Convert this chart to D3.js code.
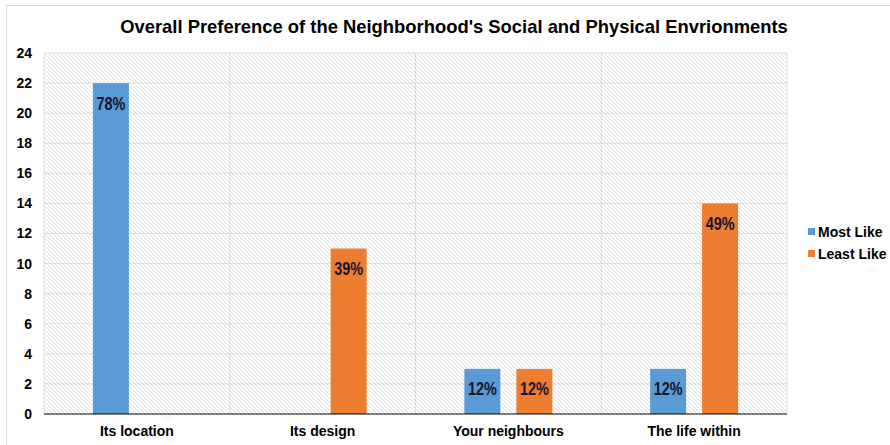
<!DOCTYPE html>
<html>
<head>
<meta charset="utf-8">
<script src="https://cdn.jsdelivr.net/npm/d3@7"></script>
<style>
    body { margin: 0; background: #fff; }
    svg { display: block; font-family: "Liberation Sans", Arial, sans-serif; }
</style>
</head>
<body>
<svg id="chart" width="890" height="445"></svg>
<script>
// Data
let categories = ["Its location", "Its design", "Your neighbours", "The life within"];
let seriesNames = ["Most Like", "Least Like"];
let mostLike = [22, 0, 3, 3];
let leastLike = [0, 11, 3, 14];
let mostLabels = ["78%", "", "12%", "12%"];
let leastLabels = ["", "39%", "12%", "49%"];
let yTicks = [0, 2, 4, 6, 8, 10, 12, 14, 16, 18, 20, 22, 24];
let colors = ["#5B9BD5", "#ED7D31"];

let rows = categories.map(function (c, i) {
    return {
        cat: c,
        values: [
            {key: seriesNames[0], value: mostLike[i], label: mostLabels[i]},
            {key: seriesNames[1], value: leastLike[i], label: leastLabels[i]}
        ]
    };
});

let svg = d3.select("#chart");
let margin = {top: 53, left: 44, right: 103, bottom: 31};
let width = 890 - margin.left - margin.right;
let height = 445 - margin.top - margin.bottom;

// outer chart border
svg.append("rect")
    .attr("x", 6.5).attr("y", 5.5)
    .attr("width", 900).attr("height", 460)
    .attr("fill", "#fff")
    .attr("stroke", "#d9d9d9");

// hatch pattern for plot background
let defs = svg.append("defs");
let pat = defs.append("pattern")
    .attr("id", "hatch")
    .attr("patternUnits", "userSpaceOnUse")
    .attr("width", 4).attr("height", 4);
pat.append("rect").attr("width", 4).attr("height", 4).attr("fill", "#fff");
pat.append("path")
    .attr("d", "M-1,-1 L5,5 M-1,3 L1,5 M3,-1 L5,1")
    .attr("stroke", "#d4d4d4")
    .attr("stroke-width", 0.8);

let g = svg.append("g")
    .attr("transform", `translate(${margin.left},${margin.top})`);

g.append("rect")
    .attr("width", width).attr("height", height)
    .attr("fill", "url(#hatch)");

// scales
let x0 = d3.scaleBand().domain(categories).range([0, width]).padding(0);
let x1 = d3.scaleBand().domain(seriesNames)
    .range([x0.bandwidth() / 2 - 44, x0.bandwidth() / 2 + 44])
    .paddingInner(0.3077);
let y = d3.scaleLinear().domain([0, 24]).range([height, 0]);

// gridlines
g.append("g").selectAll("line.h")
    .data(yTicks.slice(1))
    .enter().append("line")
    .attr("x1", 0).attr("x2", width)
    .attr("y1", d => y(d)).attr("y2", d => y(d))
    .attr("stroke", "#dcdcdc").attr("stroke-width", 1);

let bounds = categories.map(c => x0(c)).concat([width]);
g.append("g").selectAll("line.v")
    .data(bounds)
    .enter().append("line")
    .attr("x1", d => d).attr("x2", d => d)
    .attr("y1", 0).attr("y2", height)
    .attr("stroke", "#dcdcdc").attr("stroke-width", 1);

// bars
let groups = g.append("g").selectAll("g.cat")
    .data(rows)
    .enter().append("g")
    .attr("transform", d => `translate(${x0(d.cat)},0)`);

groups.selectAll("rect")
    .data(d => d.values.filter(v => v.value > 0))
    .enter().append("rect")
    .attr("x", d => x1(d.key))
    .attr("y", d => y(d.value))
    .attr("width", x1.bandwidth())
    .attr("height", d => height - y(d.value))
    .attr("fill", d => colors[seriesNames.indexOf(d.key)]);

// value labels, condensed like a narrow bold face
groups.selectAll("text")
    .data(d => d.values.filter(v => v.label !== ""))
    .enter().append("text")
    .attr("transform", d => `translate(${x1(d.key) + x1.bandwidth() / 2},${y(d.value) + 26.5}) scale(0.78,1)`)
    .attr("text-anchor", "middle")
    .attr("font-weight", "bold")
    .attr("font-size", 18.5)
    .attr("fill", "#14142b")
    .text(d => d.label);

// zero line
g.append("line")
    .attr("x1", 0).attr("x2", width)
    .attr("y1", y(0)).attr("y2", y(0))
    .attr("stroke", "#000").attr("stroke-width", 1.2);

// axes
let yAxis = d3.axisLeft(y).tickValues(yTicks).tickSize(0).tickPadding(12);
g.append("g").attr("class", "y-axis").call(yAxis)
    .call(a => a.select(".domain").remove())
    .selectAll("text")
    .attr("font-size", 14).attr("font-weight", "bold")
    .attr("font-family", "'Liberation Sans', Arial, sans-serif")
    .attr("fill", "#000");

let xAxis = d3.axisBottom(x0).tickSize(0).tickPadding(12);
g.append("g").attr("class", "x-axis")
    .attr("transform", `translate(0,${height})`)
    .call(xAxis)
    .call(a => a.select(".domain").remove())
    .selectAll("text")
    .attr("font-size", 14).attr("font-weight", "bold")
    .attr("font-family", "'Liberation Sans', Arial, sans-serif")
    .attr("fill", "#000");

// title
svg.append("text")
    .attr("x", 454).attr("y", 33)
    .attr("text-anchor", "middle")
    .attr("font-size", 18.4).attr("font-weight", "bold")
    .text("Overall Preference of the Neighborhood's Social and Physical Envrionments");

// legend
let legend = svg.append("g").attr("transform", "translate(808,232)");
seriesNames.forEach(function (s, i) {
    legend.append("rect")
        .attr("x", 0).attr("y", i * 22 - 4)
        .attr("width", 7).attr("height", 7)
        .attr("fill", colors[i]);
    legend.append("text")
        .attr("x", 10).attr("y", i * 22 + 5)
        .attr("font-size", 14).attr("font-weight", "bold")
        .text(s);
});
</script>
</body>
</html>
